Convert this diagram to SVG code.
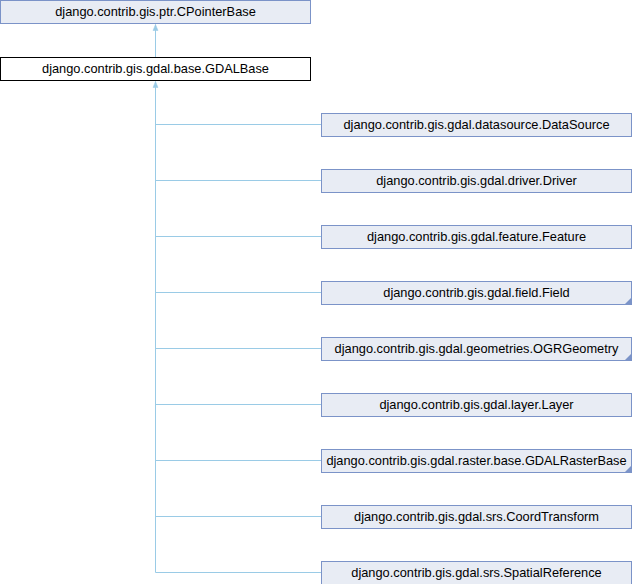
<svg xmlns="http://www.w3.org/2000/svg" width="632" height="584" viewBox="0 0 632 584">
<defs>
<style>
.n rect{fill:#e8ecf4;stroke:#7b93c8;stroke-width:1}
.b rect{fill:#ffffff;stroke:#000000;stroke-width:1}
text{font-family:"Liberation Sans",Arial,sans-serif;font-size:12.8px;fill:#000;text-anchor:middle}
.c{stroke:#9acbe6;stroke-width:1;fill:none}
.f{fill:#7b93c8}
</style>
<marker id="ah" viewBox="-7 -4 8 8" refX="0" refY="0" markerWidth="8" markerHeight="8" orient="auto" markerUnits="userSpaceOnUse">
<path d="M0,0 L-6,-2.5 L-6,2.5 Z" fill="#9acbe6" stroke="#9acbe6" stroke-width="0.5"/>
</marker>
</defs>
<g id="connectors">
<path class="c" d="M155.5,57 V24.5" marker-end="url(#ah)"/>
<path class="c" d="M155.5,572.5 V81.5" marker-end="url(#ah)"/>
<path class="c" d="M155.5,124.5 H321"/>
<path class="c" d="M155.5,180.5 H321"/>
<path class="c" d="M155.5,236.5 H321"/>
<path class="c" d="M155.5,292.5 H321"/>
<path class="c" d="M155.5,348.5 H321"/>
<path class="c" d="M155.5,404.5 H321"/>
<path class="c" d="M155.5,460.5 H321"/>
<path class="c" d="M155.5,516.5 H321"/>
<path class="c" d="M155.5,572.5 H321"/>
</g>
<g id="node-cpointerbase" class="n"><rect x="0.5" y="0.5" width="310" height="23"/><text x="155.5" y="16.2">django.contrib.gis.ptr.CPointerBase</text></g>
<g id="node-gdalbase" class="b"><rect x="0.5" y="57.5" width="310" height="23"/><text x="155.5" y="73.2">django.contrib.gis.gdal.base.GDALBase</text></g>
<g id="node-datasource" class="n"><rect x="321.5" y="113.5" width="310" height="23"/><text x="476.5" y="129.2">django.contrib.gis.gdal.datasource.DataSource</text></g>
<g id="node-driver" class="n"><rect x="321.5" y="169.5" width="310" height="23"/><text x="476.5" y="185.2">django.contrib.gis.gdal.driver.Driver</text></g>
<g id="node-feature" class="n"><rect x="321.5" y="225.5" width="310" height="23"/><text x="476.5" y="241.2">django.contrib.gis.gdal.feature.Feature</text></g>
<g id="node-field" class="n"><rect x="321.5" y="281.5" width="310" height="23"/><path class="f" d="M631,298 V304 H625 Z"/><text x="476.5" y="297.2">django.contrib.gis.gdal.field.Field</text></g>
<g id="node-ogrgeometry" class="n"><rect x="321.5" y="337.5" width="310" height="23"/><path class="f" d="M631,354 V360 H625 Z"/><text x="476.5" y="353.2">django.contrib.gis.gdal.geometries.OGRGeometry</text></g>
<g id="node-layer" class="n"><rect x="321.5" y="393.5" width="310" height="23"/><text x="476.5" y="409.2">django.contrib.gis.gdal.layer.Layer</text></g>
<g id="node-gdalrasterbase" class="n"><rect x="321.5" y="449.5" width="310" height="23"/><path class="f" d="M631,466 V472 H625 Z"/><text x="476.5" y="465.2">django.contrib.gis.gdal.raster.base.GDALRasterBase</text></g>
<g id="node-coordtransform" class="n"><rect x="321.5" y="505.5" width="310" height="23"/><text x="476.5" y="521.2">django.contrib.gis.gdal.srs.CoordTransform</text></g>
<g id="node-spatialreference" class="n"><rect x="321.5" y="561.5" width="310" height="23"/><text x="476.5" y="577.2">django.contrib.gis.gdal.srs.SpatialReference</text></g>
</svg>
